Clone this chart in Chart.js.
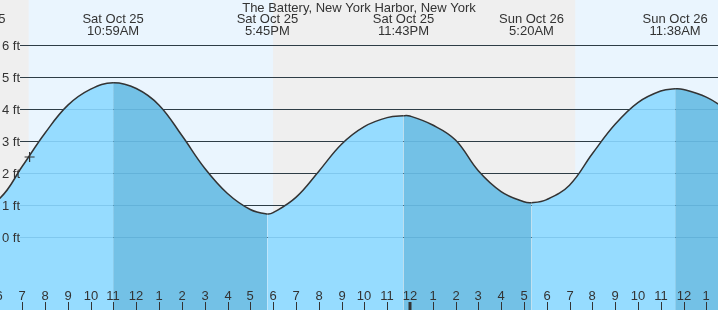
<!DOCTYPE html>
<html>
<head>
<meta charset="utf-8">
<script src="https://cdn.jsdelivr.net/npm/chart.js@4/dist/chart.umd.min.js"></script>
<style>
  html, body { margin: 0; padding: 0; background: #fff; }
  #wrap { width: 718px; height: 310px; }
</style>
</head>
<body>
<div id="wrap"><canvas id="tideChart" width="718" height="310"></canvas></div>
<script>
// tide heights (ft), hours counted from Sat Oct 25 00:00
const tideHours = [4.92, 6, 7, 8, 9, 10, 10.983, 12, 13, 14, 15, 16, 17, 17.75, 18, 19, 20, 21, 22, 23, 23.717, 24, 25, 26, 27, 28, 29, 29.333, 30, 31, 32, 33, 34, 35, 35.633, 36, 37, 38];
const tideFeet = [0.85, 1.2, 2.21, 3.25, 4.12, 4.62, 4.82, 4.64, 4.12, 3.17, 2.15, 1.36, 0.86, 0.72, 0.76, 1.24, 2.05, 2.9, 3.45, 3.73, 3.79, 3.78, 3.5, 3.03, 2.07, 1.42, 1.1, 1.07, 1.17, 1.62, 2.6, 3.52, 4.2, 4.56, 4.63, 4.61, 4.37, 3.94];

// high / low tide labels
const extremeHours = [4.92, 10.983, 17.75, 23.717, 29.333, 35.633];
const extremeDays = ["Sat Oct 25", "Sat Oct 25", "Sat Oct 25", "Sat Oct 25", "Sun Oct 26", "Sun Oct 26"];
const extremeTimes = ["4:55AM", "10:59AM", "5:45PM", "11:43PM", "5:20AM", "11:38AM"];

// x axis hour ticks
const hourTicks = [6, 7, 8, 9, 10, 11, 12, 13, 14, 15, 16, 17, 18, 19, 20, 21, 22, 23, 24, 25, 26, 27, 28, 29, 30, 31, 32, 33, 34, 35, 36, 37];
const hourLabels = ["6", "7", "8", "9", "10", "11", "12", "1", "2", "3", "4", "5", "6", "7", "8", "9", "10", "11", "12", "1", "2", "3", "4", "5", "6", "7", "8", "9", "10", "11", "12", "1"];

// y axis
const footTicks = [0, 1, 2, 3, 4, 5, 6];
const footLabels = ["0 ft", "1 ft", "2 ft", "3 ft", "4 ft", "5 ft", "6 ft"];

// night (sunset -> sunrise)
const nightStart = [0, 18.0];
const nightEnd = [7.28, 31.25];

// current time marker
const nowHour = 7.32;
const nowFeet = 2.5;

const titleText = "The Battery, New York Harbor, New York";

const FONT = '13px "Liberation Sans", Arial, sans-serif';
const TEXT = "#333";
const RISE = "#96dcff";
const FALL = "#73c1e6";

function drawGrid(chart, color) {
  const { ctx, width } = chart;
  const y = chart.scales.y;
  ctx.save();
  ctx.strokeStyle = color;
  ctx.lineWidth = 1;
  footTicks.forEach((f) => {
    const py = Math.round(y.getPixelForValue(f)) + 0.5;
    ctx.beginPath();
    ctx.moveTo(20, py);
    ctx.lineTo(width, py);
    ctx.stroke();
  });
  ctx.restore();
}

const tidePlugin = {
  id: "tideDecor",
  beforeDraw(chart) {
    const { ctx, width, height } = chart;
    const x = chart.scales.x;
    ctx.save();
    ctx.fillStyle = "#eaf5fe";
    ctx.fillRect(0, 0, width, height);
    ctx.fillStyle = "#efefef";
    nightStart.forEach((s, i) => {
      const x0 = Math.max(0, x.getPixelForValue(s));
      const x1 = x.getPixelForValue(nightEnd[i]);
      ctx.fillRect(x0, 0, x1 - x0, height);
    });
    ctx.restore();
  },
  beforeDatasetsDraw(chart) {
    drawGrid(chart, "#333");
  },
  afterDatasetsDraw(chart) {
    // faint grid showing through the water
    drawGrid(chart, "rgba(30, 110, 160, 0.18)");

    const { ctx, width, height } = chart;
    const x = chart.scales.x;
    const y = chart.scales.y;
    ctx.save();
    ctx.font = FONT;
    ctx.fillStyle = TEXT;
    ctx.strokeStyle = TEXT;

    // y labels
    ctx.textAlign = "right";
    ctx.textBaseline = "middle";
    footTicks.forEach((f, i) => {
      ctx.fillText(footLabels[i], 20, y.getPixelForValue(f) + 1);
    });

    // hour ticks
    ctx.textAlign = "center";
    hourTicks.forEach((h, i) => {
      const px = Math.round(x.getPixelForValue(h));
      const midnight = h % 24 === 0;
      ctx.lineWidth = midnight ? 3 : 1;
      ctx.beginPath();
      ctx.moveTo(px + (midnight ? 0 : 0.5), height - 8);
      ctx.lineTo(px + (midnight ? 0 : 0.5), height);
      ctx.stroke();
      ctx.fillText(hourLabels[i], px, height - 14);
    });

    // high/low labels
    extremeHours.forEach((h, i) => {
      const px = x.getPixelForValue(h);
      ctx.fillText(extremeDays[i], px, 19.5);
      ctx.fillText(extremeTimes[i], px, 31.5);
    });

    // title
    ctx.fillText(titleText, width / 2, 8);
    ctx.restore();
  },
};

const ctx = document.getElementById("tideChart").getContext("2d");

new Chart(ctx, {
  type: "line",
  data: {
    datasets: [
      {
        data: tideHours.map((h, i) => ({ x: h, y: tideFeet[i] })),
        borderColor: "#333",
        borderWidth: 1.5,
        pointRadius: 0,
        tension: 0.4,
        fill: "start",
        clip: false,
        order: 1,
        backgroundColor: RISE,
        segment: {
          backgroundColor: (c) => (c.p1.parsed.y < c.p0.parsed.y ? FALL : RISE),
        },
      },
      {
        data: [{ x: nowHour, y: nowFeet }],
        showLine: false,
        order: 0,
        pointStyle: "cross",
        pointRadius: 5,
        borderColor: "#333",
        borderWidth: 1.2,
      },
    ],
  },
  options: {
    responsive: false,
    animation: false,
    events: [],
    layout: { padding: 0, autoPadding: false },
    plugins: { legend: { display: false }, tooltip: { enabled: false } },
    scales: {
      x: { type: "linear", min: 6.022, max: 37.513, display: false },
      y: { min: -2.281, max: 7.406, display: false },
    },
  },
  plugins: [tidePlugin],
});
</script>
</body>
</html>
